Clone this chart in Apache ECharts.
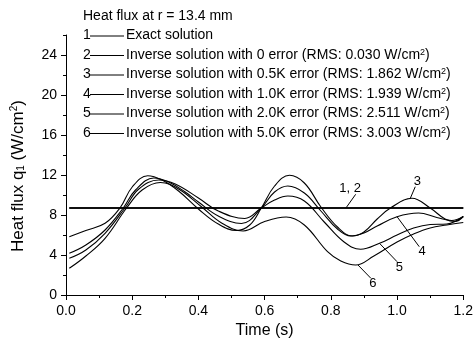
<!DOCTYPE html>
<html><head><meta charset="utf-8">
<script src="https://cdn.jsdelivr.net/npm/echarts@6/dist/echarts.min.js"></script>
<style>html,body{margin:0;padding:0;background:#fff}#c{width:476px;height:350px}</style>
</head><body><div id="c"></div>
<script>
// ---- data ----
const xTickValues = [0, 0.2, 0.4, 0.6, 0.8, 1.0, 1.2];
const yTickValues = [0, 4, 8, 12, 16, 20, 24];

const t1 = [0.01, 1.2];
const q1 = [8.7, 8.7];
const t2 = [0.01, 1.2];
const q2 = [8.7, 8.7];
const t3 = [0.01, 0.06, 0.118, 0.163, 0.20, 0.247, 0.29, 0.34, 0.40, 0.46, 0.515, 0.555, 0.59, 0.63, 0.675, 0.72, 0.77, 0.82, 0.865, 0.90, 0.94, 0.98, 1.045, 1.10, 1.145, 1.175, 1.20];
const q3 = [5.83, 6.45, 7.17, 8.7, 10.8, 11.93, 11.5, 10.4, 8.6, 7.1, 6.45, 7.0, 8.7, 10.9, 11.97, 11.2, 8.8, 6.8, 5.9, 6.3, 7.6, 8.7, 9.67, 8.7, 7.6, 7.35, 7.85];
const t4 = [0.01, 0.06, 0.118, 0.173, 0.21, 0.265, 0.31, 0.36, 0.40, 0.46, 0.53, 0.59, 0.63, 0.67, 0.72, 0.77, 0.82, 0.86, 0.90, 0.94, 1.00, 1.065, 1.12, 1.165, 1.20];
const q4 = [4.17, 5.0, 6.5, 8.7, 10.5, 11.7, 11.3, 10.3, 9.3, 7.9, 7.15, 8.7, 10.3, 10.9, 10.2, 8.4, 6.6, 5.9, 6.2, 6.9, 7.83, 8.2, 7.75, 7.45, 7.85];
const t5 = [0.01, 0.06, 0.118, 0.178, 0.22, 0.28, 0.33, 0.40, 0.46, 0.54, 0.59, 0.63, 0.67, 0.72, 0.78, 0.84, 0.89, 0.947, 1.00, 1.05, 1.10, 1.15, 1.20];
const q5 = [3.67, 4.5, 6.17, 8.7, 10.6, 11.5, 11.1, 9.7, 8.4, 7.65, 8.7, 9.5, 9.9, 9.4, 7.3, 5.3, 4.57, 5.17, 6.0, 6.7, 7.05, 7.1, 7.85];
const t6 = [0.01, 0.06, 0.118, 0.183, 0.23, 0.285, 0.34, 0.41, 0.47, 0.535, 0.60, 0.665, 0.72, 0.79, 0.83, 0.875, 0.93, 1.00, 1.05, 1.10, 1.15, 1.20];
const q6 = [2.67, 3.9, 5.67, 8.7, 10.5, 11.25, 10.6, 8.8, 7.2, 6.4, 7.35, 7.8, 7.0, 4.33, 3.4, 3.0, 3.9, 5.3, 6.1, 6.7, 7.0, 7.25];

const xName = 'Time (s)';
const yName = 'Heat flux q{sub|1} (W/cm{sup|2})';
const legendTitle = 'Heat flux at r = 13.4 mm';
const legendNums = ['1', '2', '3', '4', '5', '6'];
const legendLabels = [
  'Exact solution',
  'Inverse solution with 0 error (RMS: 0.030 W/cm{sup|2})',
  'Inverse solution with 0.5K error (RMS: 1.862 W/cm{sup|2})',
  'Inverse solution with 1.0K error (RMS: 1.939 W/cm{sup|2})',
  'Inverse solution with 2.0K error (RMS: 2.511 W/cm{sup|2})',
  'Inverse solution with 5.0K error (RMS: 3.003 W/cm{sup|2})'
];
// curve callouts: text and leader-line ends, in data units
const annoText = ['1, 2', '3', '4', '5', '6'];
const annoTextAt = [[0.858, 10.7], [1.061, 11.33], [1.076, 4.33], [1.007, 2.75], [0.927, 1.17]];
const annoFrom = [[0.875, 10.07], [1.055, 10.83], [1.067, 4.83], [1.0, 3.33], [0.921, 1.67]];
const annoTo = [[0.846, 8.72], [1.040, 9.67], [1.0, 7.83], [0.947, 5.17], [0.882, 3.0]];

// ---- chart ----
const FONT = '"Liberation Sans", Arial, sans-serif';
const INK = '#000';
const pair = (t, q) => t.map((v, i) => [v, q[i]]);
const allT = [t1, t2, t3, t4, t5, t6];
const allQ = [q1, q2, q3, q4, q5, q6];

const chart = echarts.init(document.getElementById('c'), null, { renderer: 'canvas' });

const series = allT.map((t, i) => ({
  type: 'line',
  name: legendNums[i],
  data: pair(t, allQ[i]),
  smooth: 0.4,
  showSymbol: false,
  symbol: 'none',
  lineStyle: { color: INK, width: i < 2 ? 1.3 : 1.1 },
  animation: false,
  silent: true,
  z: 3
}));

const rowY0 = 35.5, rowDY = 19.5;
const legendGraphics = [{
  type: 'text', x: 83, y: 16,
  style: { text: legendTitle, font: '14px ' + FONT, fill: INK, align: 'left', verticalAlign: 'middle' }
}, {
  type: 'text', x: 18, y: 176, rotation: Math.PI / 2,
  style: {
    text: yName, font: '17px ' + FONT, fill: INK, align: 'center', verticalAlign: 'middle',
    rich: {
      sub: { fontSize: 10, fontFamily: FONT, fill: INK, verticalAlign: 'bottom' },
      sup: { fontSize: 10, fontFamily: FONT, fill: INK, verticalAlign: 'top' }
    }
  }
}];
legendNums.forEach((n, i) => {
  const y = rowY0 + i * rowDY;
  legendGraphics.push({
    type: 'text', x: 83, y: y,
    style: { text: n, font: '14px ' + FONT, fill: INK, align: 'left', verticalAlign: 'middle' }
  });
  legendGraphics.push({
    type: 'line', shape: { x1: 90, y1: y + 0.5, x2: 124, y2: y + 0.5 },
    style: { stroke: INK, lineWidth: 1 }
  });
  legendGraphics.push({
    type: 'text', x: 126, y: y,
    style: {
      text: legendLabels[i], font: '14px ' + FONT, fill: INK, align: 'left', verticalAlign: 'middle',
      rich: { sup: { fontSize: 9, fontFamily: FONT, verticalAlign: 'top', lineHeight: 9, fill: INK } }
    }
  });
});

chart.setOption({
  animation: false,
  backgroundColor: '#fff',
  grid: { left: 66, right: 9, top: 35, bottom: 55 },
  xAxis: {
    type: 'value', min: 0, max: 1.2, interval: 0.2,
    axisLine: { show: true, onZero: false, lineStyle: { color: INK, width: 1 } },
    axisTick: { show: true, length: 5, lineStyle: { color: INK, width: 1 } },
    minorTick: { show: true, splitNumber: 2, length: 3, lineStyle: { color: INK, width: 1 } },
    splitLine: { show: false },
    axisLabel: { color: INK, fontSize: 14, fontFamily: FONT, margin: 9, formatter: v => v.toFixed(1),
      customValues: xTickValues },
    name: xName, nameLocation: 'middle', nameGap: 24,
    nameTextStyle: { color: INK, fontSize: 16, fontFamily: FONT }
  },
  yAxis: [{
    type: 'value', min: 0, max: 26, interval: 4, position: 'left',
    axisLine: { show: true, onZero: false, lineStyle: { color: INK, width: 1 } },
    axisTick: { show: true, length: 5, lineStyle: { color: INK, width: 1 }, customValues: yTickValues },
    splitLine: { show: false },
    axisLabel: { color: INK, fontSize: 14, fontFamily: FONT, margin: 9, customValues: yTickValues }
  }, {
    type: 'value', min: 0, max: 26, interval: 2, position: 'left', offset: 0,
    axisLine: { show: false },
    axisTick: { show: true, length: 3, lineStyle: { color: INK, width: 1 } },
    axisLabel: { show: false },
    splitLine: { show: false }
  }],
  series: series,
  graphic: legendGraphics
});

// callouts positioned through the chart's own coordinate system
const annoGraphics = [];
annoText.forEach((s, i) => {
  const p = chart.convertToPixel({ gridIndex: 0 }, annoTextAt[i]);
  const a = chart.convertToPixel({ gridIndex: 0 }, annoFrom[i]);
  const b = chart.convertToPixel({ gridIndex: 0 }, annoTo[i]);
  annoGraphics.push({
    type: 'text', x: p[0], y: p[1],
    style: { text: s, font: '13px ' + FONT, fill: INK, align: 'center', verticalAlign: 'middle' }
  });
  annoGraphics.push({
    type: 'line', shape: { x1: a[0], y1: a[1], x2: b[0], y2: b[1] },
    style: { stroke: INK, lineWidth: 1 }
  });
});
chart.setOption({ graphic: legendGraphics.concat(annoGraphics) });
</script>
</body></html>
